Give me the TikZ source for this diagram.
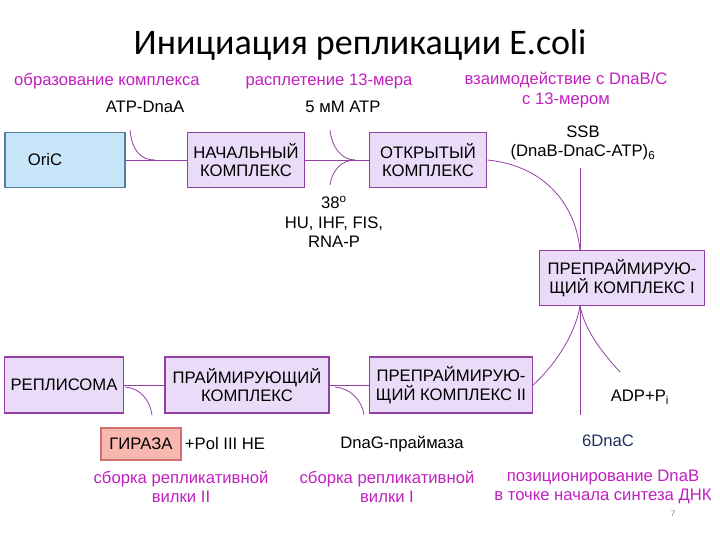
\documentclass[tikz,border=0pt]{standalone}
\usepackage{fontspec}
\setmainfont{Liberation Sans}
\newfontfamily\titlefont{Carlito}
\definecolor{boxline}{HTML}{9040A0}
\definecolor{boxfill}{HTML}{EADCF8}
\definecolor{orifill}{HTML}{C8E6FA}
\definecolor{oriline}{HTML}{5080A0}
\definecolor{girfill}{HTML}{F8B8B0}
\definecolor{girline}{HTML}{D07070}
\definecolor{note}{HTML}{C020C0}
\definecolor{navy}{HTML}{203060}
\begin{document}
\begin{tikzpicture}[x=0.75pt,y=-0.75pt,
    stage/.style={draw=boxline, line width=1pt, fill=boxfill, align=center, inner sep=1pt, font=\fontsize{12.5}{14}\selectfont},
    label/.style={align=center, font=\fontsize{12.5}{14.5}\selectfont},
    remark/.style={label, text=note},
    link/.style={draw=boxline, line width=0.6pt}]
    \useasboundingbox (0,0) rectangle (720,540);
    \path (360,45) node[font=\titlefont\fontsize{27}{30}\selectfont] (title) {Инициация репликации E.coli};

    \path (65,160)  node[stage, fill=orifill, draw=oriline, minimum width=90pt, minimum height=41pt] (oric) {\hspace*{-30pt}OriC};
    \path (246,160) node[stage, minimum width=88pt, minimum height=41pt] (init) {НАЧАЛЬНЫЙ\\КОМПЛЕКС};
    \path (428,160) node[stage, minimum width=88pt, minimum height=41pt] (open) {ОТКРЫТЫЙ\\КОМПЛЕКС};
    \path (622,278) node[stage, minimum width=124pt, minimum height=41pt] (pre1) {ПРЕПРАЙМИРУЮ-\\ЩИЙ КОМПЛЕКС I};
    \path (64,385)  node[stage, minimum width=89pt, minimum height=42pt] (repl) {РЕПЛИСОМА};
    \path (247,385) node[stage, minimum width=123pt, minimum height=42pt] (prim) {ПРАЙМИРУЮЩИЙ\\КОМПЛЕКС};
    \path (451,385) node[stage, minimum width=122pt, minimum height=42pt] (pre2) {ПРЕПРАЙМИРУЮ-\\ЩИЙ КОМПЛЕКС II};
    \path (141,444) node[stage, fill=girfill, draw=girline, minimum width=60pt, minimum height=24pt] (gyr) {ГИРАЗА};

    \path (107,81)  node[remark] (r1) {образование комплекса};
    \path (329,81)  node[remark] (r2) {расплетение 13-мера};
    \path (566,90)  node[remark] (r3) {взаимодействие с DnaB/C\\с 13-мером};
    \path (181,487) node[remark] (r4) {сборка репликативной\\вилки II};
    \path (387,487) node[remark] (r5) {сборка репликативной\\вилки I};
    \path (603,487) node[remark] (r6) {позиционирование DnaB\\в точке начала синтеза ДНК};

    \path (145,107) node[label] (atp) {ATP-DnaA};
    \path (343,107) node[label] (mm) {5 мМ ATP};
    \path (583,143) node[label] (ssb) {SSB\\(DnaB-DnaC-ATP)\textsubscript{6}};
    \path (334,222) node[label] (hu) {38\textsuperscript{o}\\HU, IHF, FIS,\\RNA-P};
    \path (640,397) node[label] (adp) {ADP+P\textsubscript{i}};
    \path (225,444) node[label] (pol) {+Pol III HE};
    \path (402,444) node[label] (dnag) {DnaG-праймаза};
    \path (608,441) node[label, text=navy] (dnac) {6DnaC};
    \path (673,514) node[font=\fontsize{6}{7}\selectfont, text=gray] (page) {7};

    \coordinate (m1) at (155,160);
    \coordinate (m2) at (355,160);
    \coordinate (m3) at (580,250);
    \coordinate (m4) at (580,306);
    \coordinate (m5) at (152,385);
    \coordinate (m6) at (340,385);

    \draw[link] (oric) -- (init);
    \draw[link] (init) -- (open);
    \draw[link] (repl) -- (prim);
    \draw[link] (prim) -- (pre2);
    \draw[link] (130,130) .. controls (132,150) and (140,160) .. (m1);
    \draw[link] (330,130) .. controls (332,148) and (342,160) .. (m2);
    \draw[link] (330,185) .. controls (332,170) and (342,160) .. (m2);
    \draw[link] (open.east) .. controls (540,165) and (575,200) .. (m3);
    \draw[link] (580,168) -- (m3);
    \draw[link] (m4) -- (580,415);
    \draw[link] (pre2.east) .. controls (555,365) and (575,335) .. (m4);
    \draw[link] (620,372) .. controls (600,350) and (585,330) .. (m4);
    \draw[link] (125,387) .. controls (140,388) and (150,400) .. (152,415);
    \draw[link] (335,387) .. controls (350,388) and (362,400) .. (364,415);
\end{tikzpicture}
\end{document}
